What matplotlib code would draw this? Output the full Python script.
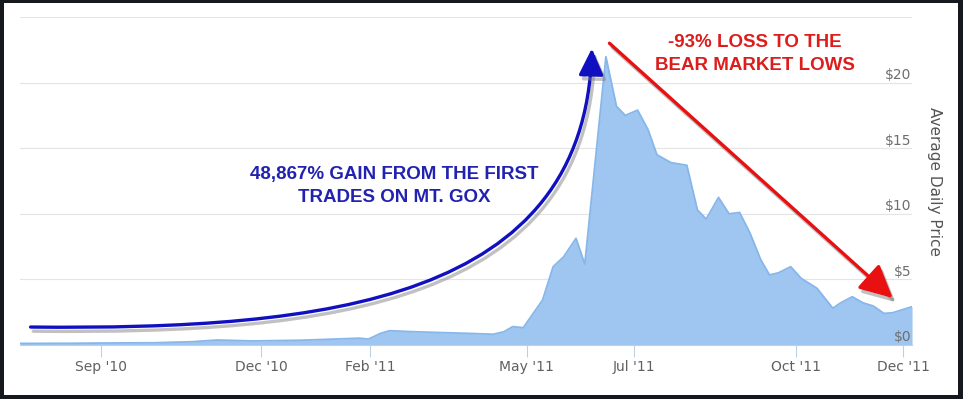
import matplotlib
matplotlib.use("Agg")
import matplotlib.pyplot as plt
import matplotlib.dates as mdates
import matplotlib.patheffects as pe
from matplotlib.patches import FancyArrowPatch, Rectangle
from matplotlib.path import Path
import pandas as pd

# weekly average price (USD)
dates = ["2010-07-17", "2010-08-15", "2010-09-01", "2010-10-01", "2010-10-23",
         "2010-11-06", "2010-11-26", "2010-12-23", "2011-01-26", "2011-01-31",
         "2011-02-07", "2011-02-12", "2011-02-24", "2011-03-15", "2011-03-28",
         "2011-04-12", "2011-04-18", "2011-04-23", "2011-04-29", "2011-05-10",
         "2011-05-16", "2011-05-22", "2011-05-29", "2011-06-03", "2011-06-15",
         "2011-06-21", "2011-06-26", "2011-07-03", "2011-07-09", "2011-07-14",
         "2011-07-22", "2011-07-31", "2011-08-06", "2011-08-11", "2011-08-18",
         "2011-08-24", "2011-08-30", "2011-09-05", "2011-09-11", "2011-09-16",
         "2011-09-21", "2011-09-28", "2011-10-04", "2011-10-13", "2011-10-22",
         "2011-10-26", "2011-11-02", "2011-11-08", "2011-11-14", "2011-11-20",
         "2011-11-25", "2011-12-06"]
prices = [0.12, 0.13, 0.15, 0.17, 0.25,
          0.38, 0.31, 0.36, 0.52, 0.45,
          0.89, 1.09, 1.02, 0.94, 0.89,
          0.82, 1.01, 1.40, 1.32, 3.43,
          5.97, 6.73, 8.13, 6.17, 21.97,
          18.2, 17.5, 17.9, 16.4, 14.5,
          13.9, 13.7, 10.3, 9.6, 11.25,
          10.0, 10.1, 8.5, 6.5, 5.34,
          5.5, 5.97, 5.08, 4.32, 2.8,
          3.18, 3.68, 3.22, 2.97, 2.41,
          2.46, 2.92]

tick_dates = ["2010-09-01", "2010-12-01", "2011-02-01", "2011-05-01",
              "2011-07-01", "2011-10-01", "2011-12-01"]
tick_labels = ["Sep '10", "Dec '10", "Feb '11", "May '11", "Jul '11", "Oct '11", "Dec '11"]
price_ticks = [0, 5, 10, 15, 20]
price_labels = ["$0", "$5", "$10", "$15", "$20"]


def d2n(s):
    return mdates.date2num(pd.Timestamp(s).to_pydatetime())


x = [d2n(d) for d in dates]

fig = plt.figure(figsize=(9.63, 3.99), dpi=100, facecolor="#15181c")
fig.add_artist(Rectangle((0.004, 0.01), 0.9907, 0.982, transform=fig.transFigure,
                         facecolor="white", edgecolor="none", zorder=-5))

ax = fig.add_axes([0.0208, 0.1353, 0.9263, 0.8221])
ax.set_facecolor("none")

# area
ax.fill_between(x, prices, 0, color="#9fc6f0", lw=0, zorder=2)
ax.plot(x, prices, color="#86b6ea", lw=1.3, zorder=3)

ax.set_xlim(d2n("2010-07-17"), d2n("2011-12-06"))
ax.set_ylim(0, 25)

# grid
ax.set_yticks([0, 5, 10, 15, 20, 25])
ax.yaxis.grid(True, color="#e4e4e4", lw=0.8, zorder=1)
ax.tick_params(axis="y", length=0, labelleft=False, labelright=False)
for v, lab in zip(price_ticks, price_labels):
    ax.text(0.999, v + 0.05, lab, transform=ax.get_yaxis_transform(), ha="right",
            va="bottom", fontsize=10, color="#6e6e6e", zorder=4)

ax.set_xticks([d2n(d) for d in tick_dates])
ax.set_xticklabels(tick_labels)
ax.tick_params(axis="x", direction="out", length=8.5, width=0.8, color="#c0d0e0",
               labelsize=10, labelcolor="#606060", pad=2)

for side in ["top", "left", "right"]:
    ax.spines[side].set_visible(False)
ax.spines["bottom"].set_color("#c0d0e0")

fig.text(0.97, 0.546, "Average Daily Price", rotation=270, ha="center", va="center",
         fontsize=11, color="#555555")

# shadow drawn as a stroke only, so the curve is not filled
shadow = [pe.SimpleLineShadow(offset=(2, -3), shadow_color="#777777", alpha=0.45), pe.Normal()]

# blue curved arrow (gain)
gain_path = Path([(d2n("2010-07-23"), 1.37), (d2n("2011-01-09"), 1.14),
                  (d2n("2011-06-03"), 3.43), (d2n("2011-06-07"), 22.6)],
                 [Path.MOVETO, Path.CURVE4, Path.CURVE4, Path.CURVE4])
gain = FancyArrowPatch(path=gain_path, arrowstyle="-|>,head_length=0.9,head_width=0.42",
                       mutation_scale=18, color="#1010c0", lw=2.4, zorder=6,
                       transform=ax.transData)
gain.set_path_effects(shadow)
ax.add_patch(gain)

# red straight arrow (loss)
loss = FancyArrowPatch((d2n("2011-06-17"), 23.0), (d2n("2011-11-25"), 3.58),
                       arrowstyle="-|>,head_length=1.0,head_width=0.5",
                       mutation_scale=20, color="#e81010", lw=2.4, zorder=6,
                       shrinkA=0, shrinkB=0)
loss.set_path_effects(shadow)
ax.add_patch(loss)

ax.text(0.419, 0.485, "48,867% GAIN FROM THE FIRST\nTRADES ON MT. GOX", transform=ax.transAxes,
        ha="center", va="center", fontsize=13.5, fontweight="bold", color="#2222b0",
        family=["Liberation Sans", "DejaVu Sans"], linespacing=1.45, zorder=7)
ax.text(0.824, 0.887, "-93% LOSS TO THE\nBEAR MARKET LOWS", transform=ax.transAxes,
        ha="center", va="center", fontsize=13.5, fontweight="bold", color="#dd1c1c",
        family=["Liberation Sans", "DejaVu Sans"], linespacing=1.45, zorder=7)

fig.savefig("out.png", dpi=100, facecolor=fig.get_facecolor())
